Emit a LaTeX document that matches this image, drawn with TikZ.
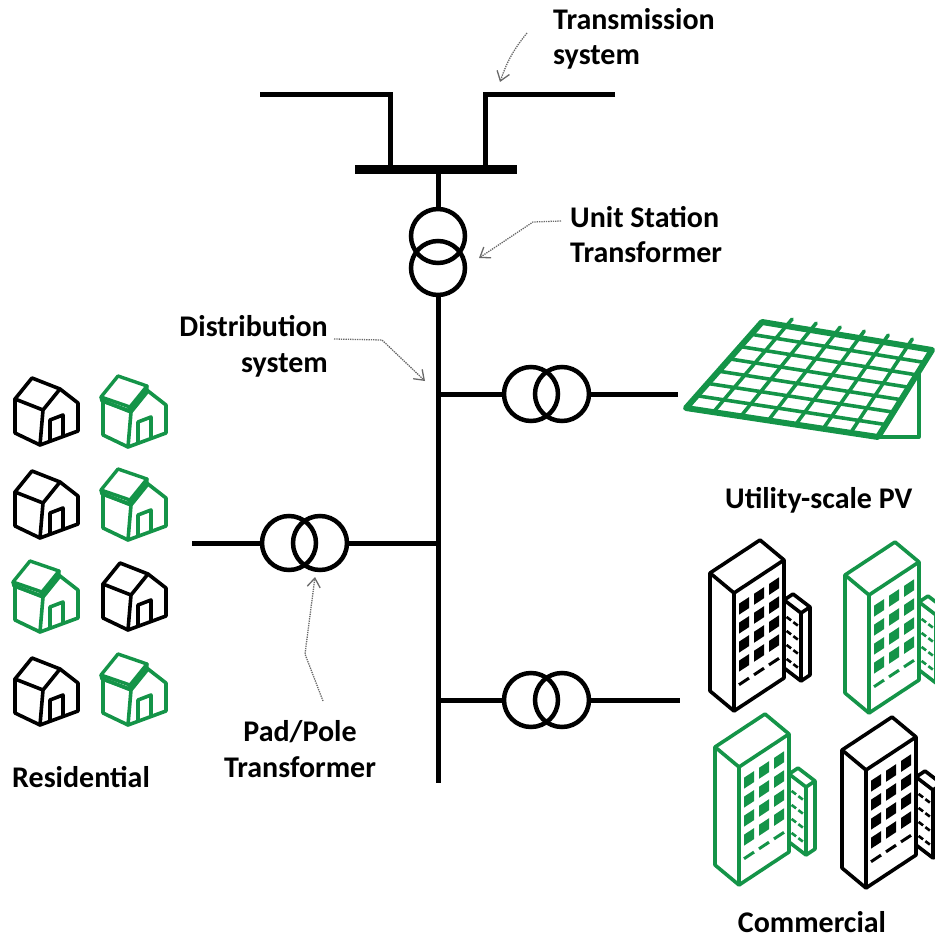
\documentclass[tikz,border=0pt]{standalone}
\usepackage{fontspec}
\setmainfont{Carlito}
\usetikzlibrary{arrows.meta,calc}
\definecolor{pvgreen}{RGB}{20,148,72}
\definecolor{notegray}{RGB}{105,105,105}

\tikzset{
  % isometric house: gable end with door on the right
  pics/house/.style={code={
    \begin{scope}[draw=#1,line width=3.6pt,line join=round,line cap=round]
      \filldraw[fill=white] (0,21) -- (17,0) -- (45,11) -- (63,25) -- (63,53) -- (25,67) -- (0,55) -- cycle;
      \draw (0,21) -- (28,32) -- (45,11);
      \draw (28,32) -- (25,67);
      \draw (35,63) -- (35,42) -- (48,37) -- (48,58);
    \end{scope}
  }},
  % house with a rooftop panel
  pics/solarhouse/.style={code={
    \pic {house=#1};
    \begin{scope}[draw=#1,line width=3.4pt,line join=round,line cap=round]
      \filldraw[fill=white] (-2,17) -- (15,-4) -- (44,6) -- (27,27) -- cycle;
      \draw (-2,17) -- (-1,21) -- (27,31) -- (44,10) -- (44,6);
      \draw (27,27) -- (27,31);
    \end{scope}
  }},
  % isometric office tower with a low annex
  pics/office/.style={code={
    \begin{scope}[line width=3.6pt,line join=round]
      \filldraw[draw=#1,fill=white] (74,27) -- (83,21) -- (100,34) -- (100,102) -- (91,108) -- (74,95) -- cycle;
      \draw[#1] (74,27) -- (91,40) -- (100,34);
      \draw[#1] (91,40) -- (91,108);
      \foreach \v in {15,29,43,57}
        \foreach \s in {0.15,0.55}
          \draw[#1,line width=2.6pt] ($(74,27)+\s*(17,13)+(0,\v)$) -- ++(4.5,3.4);
      \filldraw[draw=#1,fill=white] (0,0) -- (50,-33) -- (74,-13) -- (74,105) -- (24,138) -- (0,118) -- cycle;
      \draw[#1] (0,0) -- (24,20) -- (74,-13);
      \draw[#1] (24,20) -- (24,138);
      \foreach \u in {0.1,0.4,0.7}{
        \foreach \v in {14,33,52,71}
          \fill[#1] ($(24,20)+\u*(50,-33)+(0,\v)$) -- ++(10,-6.6) -- ++(0,11) -- ++(-10,6.6) -- cycle;
        \draw[#1,line width=3pt] ($(24,20)+\u*(50,-33)+(0,95)$) -- ++(10,-6.6);
      }
    \end{scope}
  }}
}

\begin{document}
\begin{tikzpicture}[x=1pt,y=-1pt,
  wire/.style={line width=5pt},
  coil/.style={circle,draw,line width=4.5pt,minimum size=54pt,inner sep=0pt},
  lbl/.style={font=\fontsize{30}{35}\selectfont\bfseries,inner sep=0pt},
  note/.style={draw=notegray,line width=1.3pt,densely dotted,
    -{Straight Barb[length=9pt,width=13pt,line width=1.3pt]}},
  panel/.style={draw=pvgreen,line join=round,line cap=round}]

\useasboundingbox (0,0) rectangle (934,941);

% transmission lines and station bus
\coordinate (txL) at (260,95);
\coordinate (txR) at (615,95);
\coordinate (busL) at (355,170);
\coordinate (busR) at (517,170);
\coordinate (busA) at (390,170);
\coordinate (busB) at (485,170);
\coordinate (busM) at (438,170);
\draw[wire] (txL) -| (busA);
\draw[wire] (txR) -| (busB);
\draw[line width=9pt] (busL) -- (busR);

% unit station transformer and distribution feeder
\node[coil] (usA) at (438,236) {};
\node[coil] (usB) at (438,268) {};
\coordinate (feedEnd) at (438,783);
\draw[wire] (busM) -- (usA.north);
\draw[wire] (usB.south) -- (feedEnd);

% branch to the PV plant
\coordinate (jPV) at (438,394);
\node[coil] (pvA) at (531,394) {};
\node[coil] (pvB) at (562,394) {};
\coordinate (pvEnd) at (678,394);
\draw[wire] (jPV) -- (pvA.west);
\draw[wire] (pvB.east) -- (pvEnd);

% branch to the houses
\coordinate (jRes) at (438,543);
\node[coil] (ppA) at (289,543) {};
\node[coil] (ppB) at (320,543) {};
\coordinate (resEnd) at (192,543);
\draw[wire] (resEnd) -- (ppA.west);
\draw[wire] (ppB.east) -- (jRes);

% branch to the offices
\coordinate (jCom) at (438,700);
\node[coil] (cmA) at (531,700) {};
\node[coil] (cmB) at (562,700) {};
\coordinate (comEnd) at (680,700);
\draw[wire] (jCom) -- (cmA.west);
\draw[wire] (cmB.east) -- (comEnd);

% labels
\node[lbl,anchor=base west] (tsA) at (553,30) {Transmission};
\node[lbl,anchor=base west] (tsB) at (553,65) {system};
\node[lbl,anchor=base west] (usLa) at (570,228) {Unit Station};
\node[lbl,anchor=base west] (usLb) at (570,262) {Transformer};
\node[lbl,anchor=base east] (dsA) at (328,336) {Distribution};
\node[lbl,anchor=base east] (dsB) at (328,372) {system};
\node[lbl,anchor=base west] (pvL) at (725,508) {Utility-scale PV};
\node[lbl,anchor=base] (ppLa) at (300,741) {Pad/Pole};
\node[lbl,anchor=base] (ppLb) at (300,777) {Transformer};
\node[lbl,anchor=base west] (resL) at (12,787) {Residential};
\node[lbl,anchor=base] (comL) at (812,932) {Commercial};

% pointers from the labels
\coordinate (nTs0) at (527,33);
\coordinate (nTs1) at (500,82);
\draw[note] (nTs0) to[bend right=10] (nTs1);
\coordinate (nUs0) at (561,221);
\coordinate (nUs1) at (533,222);
\coordinate (nUs2) at (479,258);
\draw[note] (nUs0) -- (nUs1) -- (nUs2);
\coordinate (nDs0) at (334,339);
\coordinate (nDs1) at (382,340);
\coordinate (nDs2) at (425,381);
\draw[note] (nDs0) -- (nDs1) -- (nDs2);
\coordinate (nPp0) at (323,701);
\coordinate (nPp1) at (305,654);
\coordinate (nPp2) at (315,577);
\draw[note] (nPp0) -- (nPp1) -- (nPp2);

% utility-scale PV array on its stand
\coordinate (pvBL) at (686,408);
\coordinate (pvTL) at (762,322);
\coordinate (pvTR) at (932,350);
\coordinate (pvBR) at (878,437);
\coordinate (standTop) at ($(pvTR)!0.25!(pvBR)$);
\coordinate (standFoot) at (standTop |- pvBR);
\draw[panel,line width=4pt] (standTop) -- (standFoot) -- (pvBR);
\foreach \i in {1,...,6}{
  \path ($(pvBL)!\i/7!(pvBR)$) coordinate (ribLo) ($(pvTL)!\i/7!(pvTR)$) coordinate (ribHi);
  \draw[panel,line width=3.6pt] (ribLo) -- ($(ribLo)!1.08!(ribHi)$);
  \draw[panel,line width=3.6pt] ($(pvBL)!\i/7!(pvTL)$) -- ($(pvBR)!\i/7!(pvTR)$);
}
\draw[panel,line width=6pt] (pvBL) -- (pvTL) -- (pvTR) -- (pvBR) -- cycle;

% residential customers
\pic (h1) at (15,378) {house=black};
\pic (h2) at (103,380) {solarhouse=pvgreen};
\pic (h3) at (15,471) {house=black};
\pic (h4) at (103,473) {solarhouse=pvgreen};
\pic (h5) at (15,565) {solarhouse=pvgreen};
\pic (h6) at (103,563) {house=black};
\pic (h7) at (15,658) {house=black};
\pic (h8) at (103,658) {solarhouse=pvgreen};

% commercial customers
\pic (o1) at (710,573) {office=black};
\pic (o2) at (845,575) {office=pvgreen};
\pic (o3) at (715,747) {office=pvgreen};
\pic (o4) at (842,750) {office=black};

\end{tikzpicture}
\end{document}
